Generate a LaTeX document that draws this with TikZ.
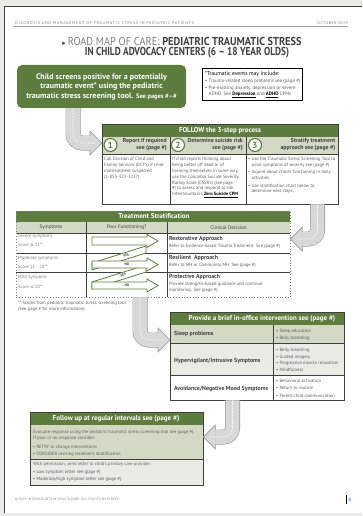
\documentclass[tikz,border=0pt]{standalone}
\usepackage{fontspec}
\setmainfont{PT Sans}
\newfontfamily\titlefont{PT Sans}[FakeStretch=0.9]
\newfontfamily\titlefontb{PT Sans}[FakeStretch=0.81]
\newfontfamily\symfont{DejaVu Sans}
\usetikzlibrary{positioning,calc}

\definecolor{rmgreen}{HTML}{5C7D3D}
\definecolor{rmsage}{HTML}{D4D9C5}
\definecolor{rmpale}{HTML}{EAEBE5}
\definecolor{rmedge}{HTML}{404040}
\definecolor{rmtext}{HTML}{5E5E5E}
\definecolor{roadfill}{HTML}{D8D8D8}
\definecolor{roadedge}{HTML}{999999}
\definecolor{pagegray}{HTML}{EBEBE7}
\definecolor{pageblue}{HTML}{4AA8D2}

\newcommand\rmfs[2]{\fontsize{#1}{#2}\selectfont}

\begin{document}
\begin{tikzpicture}[x=1pt, y=-1pt,
    every node/.style={inner sep=0pt},
    boxedge/.style={draw=rmedge, line width=0.8pt},
    band/.style={font=\bfseries\rmfs{7}{8}, text=white},
    body/.style={font=\rmfs{4.6}{5.9}, text=rmtext, align=left, anchor=north west},
    steptitle/.style={font=\bfseries\rmfs{5.8}{7}, text=rmedge, align=right, anchor=north east},
    stepnum/.style={circle, draw=rmgreen, line width=1.1pt, fill=white, minimum size=13pt,
                    font=\bfseries\rmfs{9}{9}, text=rmgreen},
    colhead/.style={font=\rmfs{5.1}{6}, text=rmedge},
    rowlabel/.style={font=\bfseries\rmfs{5.9}{7}, text=rmedge, anchor=west},
    fnarrow/.style={draw=rmgreen, line width=0.8pt, fill=white, line join=miter},
    yesno/.style={font=\bfseries\rmfs{3.6}{4}, text=rmedge},
    road/.style={draw=roadedge, line width=0.6pt, double=roadfill, double distance=13.8pt,
                 rounded corners=9pt},
    roadmark/.style={white, line width=0.6pt, dash pattern=on 1.6pt off 1.1pt, rounded corners=9pt},
    roadhead/.pic={
      \fill[roadfill] (0,0) -- (-12,-12) -- (-12,12) -- cycle;
      \draw[roadedge, line width=0.6pt] (-12,-7.2) -- (-12,-12) -- (0,0) -- (-12,12) -- (-12,7.2);
    }
]
  \useasboundingbox (0,0) rectangle (362,516);
  % page
  \fill[pagegray] (0,0) rectangle (362,516);
  \fill[white] (4,6) rectangle (362,513);
  \draw[rmedge, line width=0.7pt] (4,513) -- (4,6) -- (362,6);

  % running head and title
  \node[font=\rmfs{4.1}{4}\addfontfeature{LetterSpace=16}, text=gray, anchor=west] (runhead) at (15,23)
    {DIAGNOSIS AND MANAGEMENT OF TRAUMATIC STRESS IN PEDIATRIC PATIENTS};
  \node[font=\rmfs{3.9}{4}\addfontfeature{LetterSpace=12}, text=gray, anchor=east] (rundate) at (348,23)
    {OCTOBER 2019};
  \draw[gray!70, line width=0.5pt] (13,26) -- (348,26);
  \node[font=\titlefont\rmfs{11.5}{13}, text=rmedge] (title1) at (182,41)
    {{\symfont\rmfs{7}{8}▸}\,{\color{gray}ROAD MAP OF CARE:} \textbf{PEDIATRIC TRAUMATIC STRESS}};
  \node[font=\titlefontb\bfseries\rmfs{11.5}{13}, text=rmedge] (title2) at (187,53)
    {IN CHILD ADVOCACY CENTERS (6 – 18 YEAR OLDS)};

  % screening box and note
  \node[fill=rmgreen, rounded corners=5pt, minimum width=169pt, minimum height=43pt, align=center,
        text=white, font=\bfseries\rmfs{8}{9.5}] (screen) at (101.5,86.5)
    {Child screens positive for a potentially\\traumatic event* using the pediatric\\
     traumatic stress screening tool. {\rmfs{6.4}{9.5}See pages \#–\#}};
  \node[draw=black, line width=0.9pt, minimum width=100pt, minimum height=32.5pt,
        anchor=north west] (note) at (202,68) {};
  \node[body, font=\rmfs{4.9}{6}] (notetext) at (205,71.5)
    {{\color{black}\rmfs{5.6}{6}*Traumatic events may include:}\\[0.8pt]
     • Trauma-related sleep problems see (page \#)\\[0.8pt]
     • Pre-existing anxiety, depression or severe\\
     \phantom{• }ADHD. See {\color{black}\textbf{\underline{Depression}}} and
     {\color{black}\textbf{\underline{ADHD}}} CPMs};

  % 3-step process
  \node[fill=white, minimum width=236pt, minimum height=80pt, anchor=north west] (steps) at (102,124) {};
  \fill[rmgreen] (102,124) rectangle (338,136.5);
  \fill[rmsage] (102,136.5) rectangle (338,154);
  \draw[rmedge, line width=0.4pt] (102,154) -- (338,154);
  \draw[boxedge] (170,136.5) -- (170,204) (246,136.5) -- (246,204);
  \draw[boxedge] (steps.north west) rectangle (steps.south east);
  \draw[rmedge, line width=1.6pt] (steps.south west) -- (steps.south east);
  \node[band] (stepshead) at (220,130.5) {FOLLOW the 3-step process};
  \node[stepnum] (num1) at (110.5,145) {1};
  \node[steptitle] (step1) at (167,138.5) {Report if required\\see (page \#)};
  \node[stepnum] (num2) at (178,145) {2};
  \node[steptitle] (step2) at (243,138.5) {Determine suicide risk\\see (page \#)};
  \node[stepnum] (num3) at (255,145) {3};
  \node[steptitle] (step3) at (335.5,138.5) {Stratify treatment\\approach see (page \#)};
  \node[body] (body1) at (104,157)
    {Call Division of Child and\\Family Services (DCFS) if child\\maltreatment suspected\\(1-855-323-3237)};
  \node[body] (body2) at (172,157)
    {If child reports thinking about\\being better off dead or of\\harming themselves in some way,\\
     use the Columbia Suicide Severity\\Rating Scale (CSSRS) (see page\\\#) to assess and respond to risk\\
     Intermountain's {\color{black}\textbf{\underline{Zero Suicide CPM}}}};
  \node[body] (body3) at (248,157)
    {• Use the Traumatic Stress Screening Tool to\\\phantom{• }score symptoms of severity see (page \#)\\[1.5pt]
     • Inquire about child's functioning in daily\\\phantom{• }activities\\[1.5pt]
     • Use stratification chart below to\\\phantom{• }determine next steps.};

  % treatment stratification
  \node[fill=white, minimum width=274pt, minimum height=86pt, anchor=north west] (strat) at (16,211) {};
  \fill[rmgreen] (16,211) rectangle (290,222);
  \fill[rmsage] (16,222) rectangle (290,233);
  \draw[rmedge, line width=0.3pt] (16,233) -- (290,233);
  \draw[boxedge] (86,222) -- (86,297) (167,222) -- (167,297);
  \draw[rmedge, line width=1pt] (16,253) -- (290,253) (16,272) -- (290,272);
  \draw[gray, dotted, line width=0.8pt] (strat.north west) rectangle (strat.south east);
  \node[band] (strathead) at (154,216.5) {Treatment Stratification};
  \node[colhead] (symhead) at (51,227.5) {Symptoms};
  \node[colhead] (funchead) at (126.5,227.5) {Poor Functioning?};
  \node[colhead] (dechead) at (228.5,227.5) {Clinical Decision};
  \node[body, text=gray] (severe) at (18,233.6) {Severe symptoms\\[4pt]Score {\symfont≥}\,21**};
  \node[body, text=gray] (moderate) at (18,255.7) {Moderate symptoms\\[3pt]Score 11 - 20**};
  \node[body, text=gray] (mild) at (18,274.7) {Mild Sympoms\\[4pt]Score {\symfont≤}\,10**};
  % functioning arrows
  \draw[fnarrow] (92,282) -- (146,265) -- (146,272) -- (92,289) -- cycle;
  \draw[fnarrow] (92,263) -- (146,246) -- (146,253) -- (92,270) -- cycle;
  \draw[fnarrow] (92,282) -- (147,282) -- (147,279) -- (158,285.5) -- (147,292) -- (147,289) -- (92,289) -- cycle;
  \draw[fnarrow] (92,261) -- (147,261) -- (147,258) -- (158,264.5) -- (147,271) -- (147,268) -- (92,268) -- cycle;
  \draw[fnarrow] (92,237) -- (147,237) -- (147,234.5) -- (158,241) -- (147,247.5) -- (147,245) -- (92,245) -- cycle;
  \node[yesno, rotate=17] (yes2) at (126,255.5) {YES};
  \node[yesno] (no2) at (127,264.5) {NO};
  \node[yesno, rotate=17] (yes3) at (123,275) {YES};
  \node[yesno] (no3) at (127,285.5) {NO};
  \node[body] (restore) at (169,236.3)
    {{\color{rmedge}\bfseries\rmfs{5.9}{6}Restorative Approach}\\[1pt]Refer to Evidence-based Trauma Treatment. See (page \#)};
  \node[body] (resilient) at (169,255.2)
    {{\color{rmedge}\bfseries\rmfs{5.9}{6}Resilient\ \ Approach}\\[1pt]Refer to MH or Community MH. See (page \#)};
  \node[body] (protect) at (169,274.5)
    {{\color{rmedge}\bfseries\rmfs{5.9}{6}Protective Approach}\\[1pt]Provide strengths-based guidance and continue\\monitoring. See (page \#)};
  \node[body] (scorenote) at (18,301)
    {** Scores from pediatric traumatic stress screening tool\\(See page \# for more information)};

  % brief intervention
  \node[fill=white, minimum width=174pt, minimum height=88pt, anchor=north west] (brief) at (170,312) {};
  \fill[rmgreen] (170,312) rectangle (344,325);
  \fill[rmsage] (170,325) rectangle (344,343);
  \fill[rmpale] (170,343) rectangle (344,375);
  \draw[rmedge, line width=0.4pt] (170,343) -- (344,343) (170,375) -- (344,375);
  \draw[boxedge] (273,325) -- (273,400);
  \draw[boxedge] (brief.north west) rectangle (brief.south east);
  \node[band] (briefhead) at (262,318.5)
    {Provide a brief in-office intervention see (page \#)};
  \node[rowlabel] (sleep) at (174,334) {Sleep problems};
  \node[rowlabel] (hyper) at (174,361) {Hypervigilant/Intrusive Symptoms};
  \node[rowlabel] (avoid) at (174,389) {Avoidance/Negative Mood Symptoms};
  \node[body] (sleeplist) at (276,328.7) {• Sleep education\\[1.1pt]• Belly breathing};
  \node[body] (hyperlist) at (276,348)
    {• Belly breathing\\[0.8pt]• Guided imagery\\[0.8pt]• Progressive muscle relaxation\\[0.8pt]• Mindfulness};
  \node[body] (avoidlist) at (276,378.7)
    {• Behavioral activation\\[1.7pt]• Return to routine\\[1.7pt]• Parent-child communication};

  % follow up
  \node[fill=white, minimum width=173pt, minimum height=72.5pt, anchor=north west] (follow) at (30,412) {};
  \fill[rmgreen] (30,412) rectangle (203,425);
  \fill[rmsage] (30,425) rectangle (203,459.5);
  \fill[rmpale] (30,459.5) rectangle (203,484.5);
  \draw[rmedge, line width=1.2pt] (30,459.5) -- (203,459.5);
  \draw[boxedge] (follow.north west) rectangle (follow.south east);
  \node[band] (followhead) at (116,418.5)
    {Follow up at regular intervals see (page \#)};
  \node[body] (followeval) at (33,429.7)
    {Evaluate response using the pediatric traumatic stress screening tool see (page \#).\\
     If poor or no response consider:\\[3.6pt]• RETRY or change interventions\\[1.5pt]
     • CONSIDER revising treatment stratification};
  \node[body] (followletter) at (33,462.3)
    {With permission, send letter to child's primary care provider:\\[1.5pt]
     • Low symptom letter see (page \#)\\[1.5pt]• Moderate/high symptom letter see (page \#)};

  % roads
  \coordinate (bend1) at (73,143);
  \coordinate (tip1) at (steps.west |- bend1);
  \draw[road] (screen.south -| bend1) |- ($(tip1)+(-12,0)$);
  \pic at (tip1) {roadhead};
  \draw[roadmark] (screen.south -| bend1) |- ($(tip1)+(-6,0)$);

  \coordinate (bend2) at (317.5,239);
  \coordinate (tip2) at (strat.east |- bend2);
  \draw[road] (steps.south -| bend2) |- ($(tip2)+(12,0)$);
  \pic[rotate=180] at (tip2) {roadhead};
  \draw[roadmark] (steps.south -| bend2) |- ($(tip2)+(6,0)$);

  \coordinate (bend3) at (140,340);
  \coordinate (tip3) at (brief.west |- bend3);
  \draw[road] (strat.south -| bend3) |- ($(tip3)+(-12,0)$);
  \pic at (tip3) {roadhead};
  \draw[roadmark] (strat.south -| bend3) |- ($(tip3)+(-6,0)$);

  \coordinate (bend4) at (232.5,437);
  \coordinate (tip4) at (follow.east |- bend4);
  \draw[road] (brief.south -| bend4) |- ($(tip4)+(12,0)$);
  \pic[rotate=180] at (tip4) {roadhead};
  \draw[roadmark] (brief.south -| bend4) |- ($(tip4)+(6,0)$);

  % footer
  \node[font=\rmfs{3.4}{4}\addfontfeature{LetterSpace=8}, text=gray, anchor=west] (copyright) at (15,499.5)
    {©2019 INTERMOUNTAIN HEALTHCARE. ALL RIGHTS RESERVED.};
  \draw[black, line width=0.9pt] (346.8,495) -- (346.8,503.5);
  \node[font=\bfseries\rmfs{5}{6}, text=pageblue] (pageno) at (350,499.5) {6};
\end{tikzpicture}
\end{document}
